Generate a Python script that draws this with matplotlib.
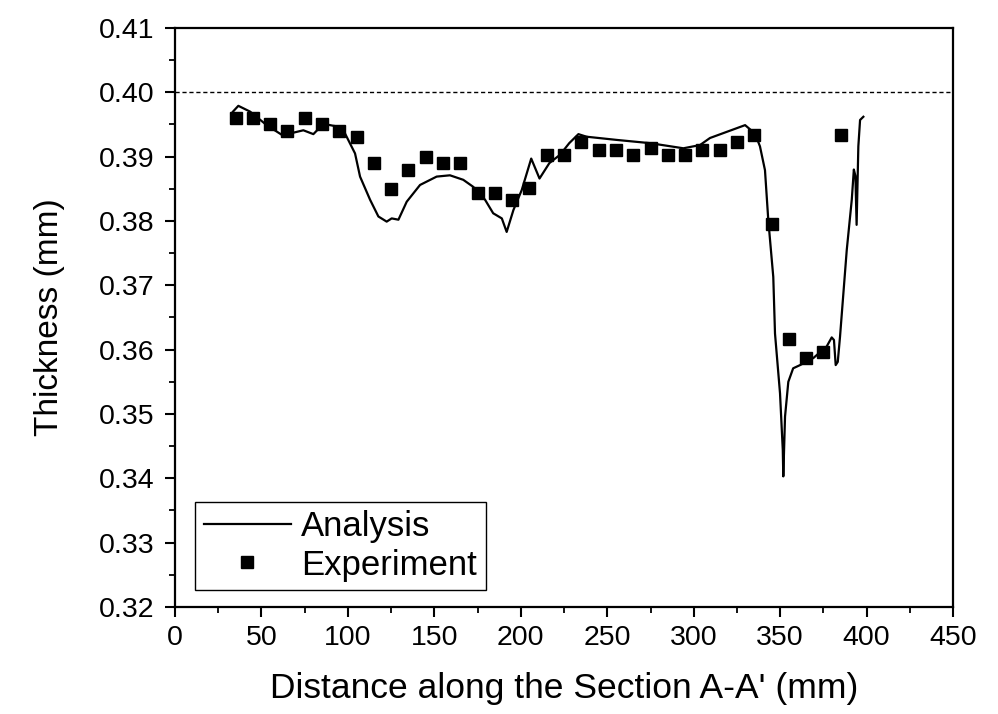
import matplotlib
matplotlib.use("Agg")
import matplotlib.pyplot as plt
from matplotlib.ticker import MultipleLocator, FormatStrFormatter

plt.rcParams['font.family'] = ['Liberation Sans', 'DejaVu Sans']

# Experiment data
exp_x = [35, 45, 55, 65, 75, 85, 95, 105, 115, 125, 135, 145, 155, 165, 175, 185,
         195, 205, 215, 225, 235, 245, 255, 265, 275, 285, 295, 305, 315, 325, 335,
         345, 355, 365, 375, 385]
exp_y = [0.396, 0.396, 0.395, 0.394, 0.396, 0.395, 0.394, 0.393, 0.389, 0.385,
         0.388, 0.390, 0.389, 0.389, 0.3843, 0.3843, 0.3832, 0.3852, 0.3903, 0.3903,
         0.3923, 0.3911, 0.3911, 0.3903, 0.3913, 0.3903, 0.3903, 0.3911, 0.3911,
         0.3922, 0.3934, 0.3795, 0.3616, 0.3587, 0.3597, 0.3934]

# Analysis curve
ana_x = [33.5, 36.6, 43.4, 53.0, 61.7, 66.5, 74.2, 80.0, 85.8, 93.5, 98.3, 104.1,
         107.0, 112.8, 117.6, 122.4, 125.3, 129.2, 134.0, 141.7, 151.3, 159.0,
         166.7, 172.5, 179.3, 184.0, 189.0, 191.8, 195.7, 200.5, 206.0, 210.8,
         216.5, 222.7, 228.0, 233.3, 238.0, 255.5, 274.7, 294.0, 303.6, 309.4,
         329.7, 335.4, 338.3, 341.2, 343.1, 346.0, 347.0, 349.9, 351.5, 351.8,
         352.8, 354.7, 357.5, 361.5, 369.2, 376.9, 379.8, 381.1, 382.1, 383.3,
         384.6, 388.5, 391.4, 392.6, 393.5, 394.2, 395.2, 396.2, 398.1]
ana_y = [0.3970, 0.3979, 0.3970, 0.3949, 0.3934, 0.3936, 0.3941, 0.3935, 0.3951,
         0.3947, 0.3936, 0.3905, 0.3869, 0.3833, 0.3807, 0.3799, 0.3804, 0.3802,
         0.3830, 0.3856, 0.3869, 0.3871, 0.3864, 0.3853, 0.3833, 0.3812, 0.3804,
         0.3783, 0.3817, 0.3848, 0.3897, 0.3866, 0.3890, 0.3903, 0.3921, 0.3935,
         0.3931, 0.3926, 0.3921, 0.3913, 0.3918, 0.3929, 0.3949, 0.3936, 0.3916,
         0.3879, 0.3802, 0.3713, 0.3625, 0.3532, 0.3444, 0.3403, 0.3496, 0.3550,
         0.3571, 0.3576, 0.3587, 0.3605, 0.3619, 0.3615, 0.3576, 0.3581, 0.3620,
         0.3755, 0.3833, 0.3880, 0.3870, 0.3794, 0.3916, 0.3957, 0.3962]

nominal = 0.40

fig = plt.figure(figsize=(9.98, 7.14), dpi=100)
ax = fig.add_axes([0.1754, 0.1499, 0.7796, 0.8109])

ax.axhline(nominal, color='black', linestyle=(0, (3, 2)), linewidth=1.0)
ax.plot(ana_x, ana_y, color='black', linewidth=1.6, label='Analysis')
ax.plot(exp_x, exp_y, linestyle='none', marker='s', markersize=9,
        color='black', label='Experiment')

ax.set_xlim(0, 450)
ax.set_ylim(0.32, 0.41)
ax.xaxis.set_major_locator(MultipleLocator(50))
ax.xaxis.set_minor_locator(MultipleLocator(25))
ax.yaxis.set_major_locator(MultipleLocator(0.01))
ax.yaxis.set_minor_locator(MultipleLocator(0.005))
ax.yaxis.set_major_formatter(FormatStrFormatter('%.2f'))

ax.tick_params(which='major', direction='out', length=7, width=1.5,
               labelsize=20.5, top=False, right=False)
ax.tick_params(axis='y', which='major', pad=8)
ax.tick_params(axis='x', which='major', pad=6)
ax.tick_params(which='minor', direction='out', length=4, width=1.3,
               top=False, right=False)
for s in ax.spines.values():
    s.set_linewidth(1.6)

ax.set_xlabel("Distance along the Section A-A' (mm)", fontsize=25.5, labelpad=15)
ax.set_ylabel("Thickness (mm)", fontsize=24, labelpad=24)

leg = ax.legend(loc='lower left', bbox_to_anchor=(0.026, 0.029), fontsize=25,
                frameon=True, fancybox=False, edgecolor='black', framealpha=1,
                handlelength=2.5, handletextpad=0.3, borderpad=0.25,
                labelspacing=0.15, borderaxespad=0, markerscale=1.0)
leg.get_frame().set_linewidth(1.0)

fig.savefig('out.png', dpi=100)
